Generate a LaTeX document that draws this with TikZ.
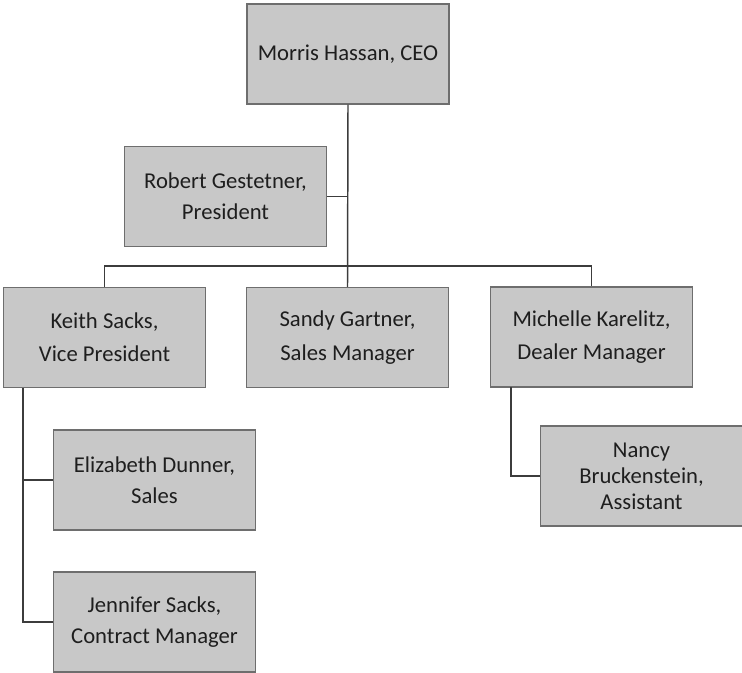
\documentclass[tikz,border=0pt]{standalone}
\usepackage{fontspec}
\setmainfont{Carlito}

\tikzset{every picture/.style={line width=0.75pt}}
\tikzset{
  orgbox/.style={draw={rgb, 255:red, 110; green, 110; blue, 110 }, fill={rgb, 255:red, 200; green, 200; blue, 200 }, line width=1.1pt,
    minimum width=151.5pt, minimum height=75pt, inner sep=0pt, align=center,
    text={rgb, 255:red, 30; green, 30; blue, 30 }, font=\fontsize{17}{23}\selectfont},
  orgline/.style={color={rgb, 255:red, 60; green, 60; blue, 60 }, line width=1.1pt}
}

\begin{document}
\begin{tikzpicture}[x=0.75pt,y=0.75pt,yscale=-1,xscale=1]
\useasboundingbox (0,0) rectangle (742,672);

% Text Node
\node [orgbox] (ceo) at (348,54) {Morris Hassan, CEO};
% Text Node
\node [orgbox] (robert) at (225.5,196.5) {Robert Gestetner,\\President};
% Text Node
\node [orgbox] (keith) at (104.5,337.5) {Keith Sacks,\\[2pt]Vice President};
% Text Node
\node [orgbox] (sandy) at (347.5,337.5) {Sandy Gartner,\\[2pt]Sales Manager};
% Text Node
\node [orgbox] (michelle) at (591.5,337) {Michelle Karelitz,\\[2pt]Dealer Manager};
% Text Node
\node [orgbox] (elizabeth) at (154.5,480) {Elizabeth Dunner,\\Sales};
% Text Node
\node [orgbox, font=\fontsize{17}{19.5}\selectfont] (nancy) at (641.5,476) {Nancy\\Bruckenstein,\\Assistant};
% Text Node
\node [orgbox] (jennifer) at (154.5,622) {Jennifer Sacks,\\Contract Manager};

\coordinate (bus) at (348,266);
\coordinate (keithleg) at (23,388);
\coordinate (michelleleg) at (511,387);

%Straight Lines
\draw [orgline] (ceo.south) -- (sandy.north);
%Straight Lines
\draw [orgline] (robert.east) -- (robert.east -| ceo.south);
%Straight Lines
\draw [orgline] (keith.north) |- (bus) -| (michelle.north);
%Straight Lines
\draw [orgline] (keithleg) |- (elizabeth.west);
\draw [orgline] (keithleg) |- (jennifer.west);
%Straight Lines
\draw [orgline] (michelleleg) |- (nancy.west);

\end{tikzpicture}
\end{document}
